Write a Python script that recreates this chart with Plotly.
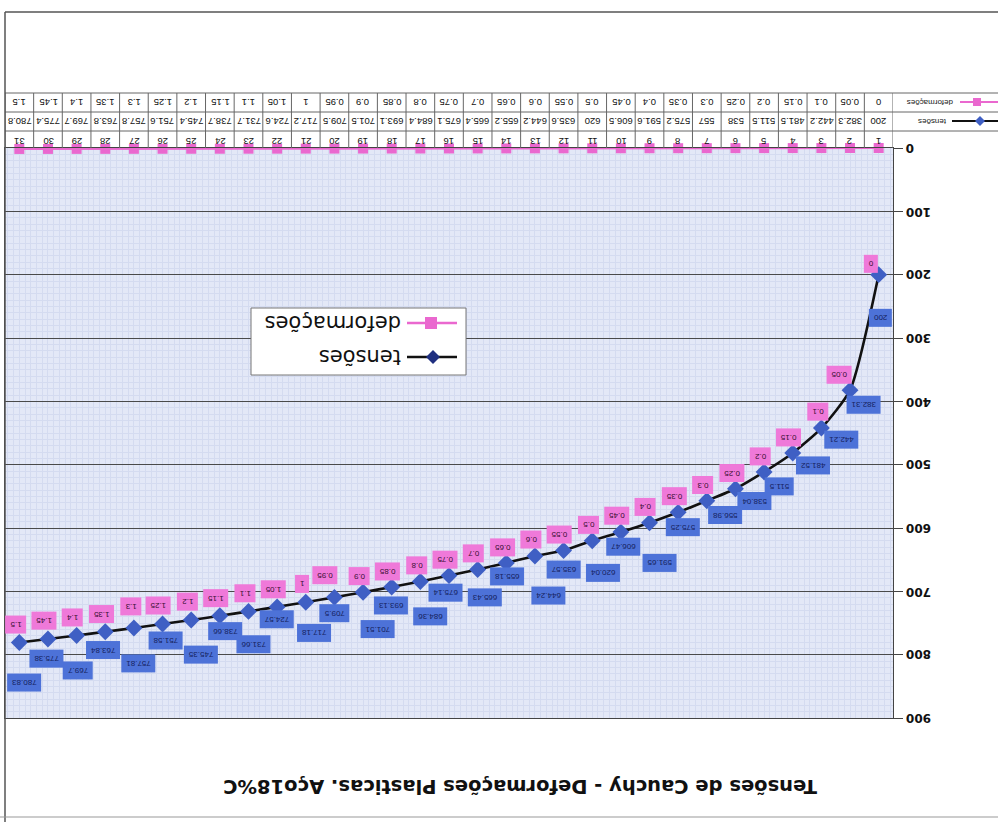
import plotly.graph_objects as go

# ---- data -------------------------------------------------------------
categorias = list(range(1, 32))
tensoes = [200, 382.31, 442.21, 481.52, 511.5, 538.04, 556.98, 575.25, 591.65, 606.47,
           620.04, 635.57, 644.24, 655.18, 665.43, 675.14, 684.36, 693.13, 701.51, 709.5,
           717.18, 724.57, 731.66, 738.66, 745.35, 751.58, 757.81, 763.84, 769.7, 775.38,
           780.83]
deformacoes = [0, 0.05, 0.1, 0.15, 0.2, 0.25, 0.3, 0.35, 0.4, 0.45,
               0.5, 0.55, 0.6, 0.65, 0.7, 0.75, 0.8, 0.85, 0.9, 0.95,
               1, 1.05, 1.1, 1.15, 1.2, 1.25, 1.3, 1.35, 1.4, 1.45, 1.5]
y_ticks = [0, 100, 200, 300, 400, 500, 600, 700, 800, 900]
titulo = "Tensões de Cauchy - Deformações Plasticas. Aço18%C"
nome_t = "tensões"
nome_d = "deformações"

# ---- label placement (pixel nudges around each point) -----------------
off_t = [(2, 43), (14, 15), (20, 12), (20, 12), (15, 14), (19, 12), (18, 14), (5, 15),
         (10, 40), (2, 15), (11, 32), (0, 19), (13, 40), (1, 13), (7, 28), (-3, 17),
         (10, 35), (-1, 18), (15, 37), (0, 16), (8, 31), (0, 12), (5, 33), (5, 15),
         (10, 35), (3, 17), (4, 35), (-2, 18), (1, 35), (-2, 20), (5, 40)]
off_d = [(-8, -11), (-11, -15)] + [(-4, -16)] * 17 + [(-10, -22)] + [(-4, -18)] * 6 \
        + [(-3, -22)] + [(-4, -18)] * 4

# ---- page geometry ------------------------------------------------------
W, H = 998, 822


def fx(px):
    return px / W


def fy(py):
    return 1 - py / H


PL, PR, PT, PB = 5, 893, 148, 718
ROW_LINES = [93, 112, 131]
ROW_D, ROW_T, ROW_C = 102, 121, 142

BLUE = "#3f5fc4"
PINK = "#ea68cf"
GRID = "#4a4a4a"
FONT = "Liberation Sans, Arial, sans-serif"
FONT_B = "DejaVu Sans, sans-serif"


def flipped(**kw):
    """Upside-down text annotation anchored on its centre."""
    base = dict(showarrow=False, textangle=180, xanchor="center", yanchor="middle")
    base.update(kw)
    return base


fig = go.Figure()

fig.add_trace(go.Scatter(
    x=categorias, y=tensoes, name=nome_t, mode="lines+markers",
    line=dict(color="#111111", width=2.6, shape="spline", smoothing=0.6),
    marker=dict(symbol="diamond", size=13, color=BLUE),
    cliponaxis=False, showlegend=False))

fig.add_trace(go.Scatter(
    x=categorias, y=deformacoes, name=nome_d, mode="lines+markers",
    line=dict(color=PINK, width=2),
    marker=dict(symbol="square", size=10, color=PINK),
    cliponaxis=False, showlegend=False))

ann = []
shapes = []

# value labels on the curve
for c, v, (dx, dy) in zip(categorias, tensoes, off_t):
    ann.append(flipped(x=c, y=v, xref="x", yref="y", text=f"{v:g}",
                       xshift=dx, yshift=-dy, bgcolor="#4d72d8", borderpad=4,
                       font=dict(family=FONT, size=8, color="#16225e")))
for c, v, d, (dx, dy) in zip(categorias, tensoes, deformacoes, off_d):
    ann.append(flipped(x=c, y=v, xref="x", yref="y", text=f"{d:g}",
                       xshift=dx, yshift=-dy, bgcolor="#ef79d9", borderpad=4,
                       font=dict(family=FONT, size=8, color="#3a0f33")))

# y tick labels, written upside down beside the right-hand axis
for t in y_ticks:
    ann.append(flipped(x=fx(904), y=t, xref="paper", yref="y", text=f"<b>{t}</b>",
                       xanchor="left", font=dict(family=FONT_B, size=12, color="#111")))

# data table above the plot: deformações, tensões and the category row
for c, v, d in zip(categorias, tensoes, deformacoes):
    ann.append(flipped(x=c, y=fy(ROW_D), xref="x", yref="paper", text=f"{d:g}",
                       font=dict(family=FONT, size=9.5, color="#111111")))
    ann.append(flipped(x=c, y=fy(ROW_T), xref="x", yref="paper", text=f"{round(v, 1):g}",
                       font=dict(family=FONT, size=9.5, color="#111111")))
    ann.append(flipped(x=c, y=fy(ROW_C), xref="x", yref="paper", text=str(c),
                       font=dict(family=FONT, size=9.5, color="#111111")))

for k in range(0, 32):
    shapes.append(dict(type="line", xref="x", yref="paper", x0=k + 0.5, x1=k + 0.5,
                       y0=fy(ROW_LINES[0]), y1=fy(PT), line=dict(color="#666666", width=1)))
for py in ROW_LINES:
    shapes.append(dict(type="line", xref="paper", yref="paper", x0=fx(PL), x1=1,
                       y0=fy(py), y1=fy(py), line=dict(color="#666666", width=1)))

# row headers with their legend keys
ann.append(flipped(x=fx(930), y=fy(ROW_D), xref="paper", yref="paper", text=nome_d,
                   font=dict(family=FONT, size=8, color="#222")))
ann.append(flipped(x=fx(932), y=fy(ROW_T), xref="paper", yref="paper", text=nome_t,
                   font=dict(family=FONT, size=8, color="#222")))
shapes.append(dict(type="line", xref="paper", yref="paper", x0=fx(960), x1=1,
                   y0=fy(ROW_D), y1=fy(ROW_D), line=dict(color=PINK, width=2)))
shapes.append(dict(type="rect", xref="paper", yref="paper", x0=fx(973), x1=fx(981),
                   y0=fy(ROW_D + 4), y1=fy(ROW_D - 4), fillcolor=PINK, line=dict(width=0)))
shapes.append(dict(type="line", xref="paper", yref="paper", x0=fx(952), x1=1,
                   y0=fy(ROW_T), y1=fy(ROW_T), line=dict(color="#111", width=2)))
shapes.append(dict(type="path", xref="paper", yref="paper",
                   path=f"M {fx(980)},{fy(ROW_T - 5)} L {fx(985)},{fy(ROW_T)} "
                        f"L {fx(980)},{fy(ROW_T + 5)} L {fx(975)},{fy(ROW_T)} Z",
                   fillcolor=BLUE, line=dict(width=0)))

# legend box
LX0, LX1, LY0, LY1 = 251, 466, 308, 375
shapes.append(dict(type="rect", xref="paper", yref="paper", x0=fx(LX0), x1=fx(LX1),
                   y0=fy(LY1), y1=fy(LY0), fillcolor="white",
                   line=dict(color="#777777", width=1)))
for py, name, col, sym in [(323, nome_d, PINK, "sq"), (357, nome_t, "#111", "di")]:
    shapes.append(dict(type="line", xref="paper", yref="paper", x0=fx(407), x1=fx(457),
                       y0=fy(py), y1=fy(py), line=dict(color=col, width=2.5)))
    if sym == "sq":
        shapes.append(dict(type="rect", xref="paper", yref="paper", x0=fx(425), x1=fx(437),
                           y0=fy(py + 6), y1=fy(py - 6), fillcolor=PINK, line=dict(width=0)))
    else:
        shapes.append(dict(type="path", xref="paper", yref="paper",
                           path=f"M {fx(433)},{fy(py - 7)} L {fx(440)},{fy(py)} "
                                f"L {fx(433)},{fy(py + 7)} L {fx(426)},{fy(py)} Z",
                           fillcolor="#1f2f80", line=dict(width=0)))
    ann.append(flipped(x=fx(403), y=fy(py), xref="paper", yref="paper", text=name,
                       xanchor="right", font=dict(family=FONT_B, size=21, color="#111")))

# title
ann.append(flipped(x=fx(520), y=fy(787), xref="paper", yref="paper", text=f"<b>{titulo}</b>",
                   font=dict(family=FONT_B, size=19.5, color="#111")))

# outer frame
shapes.append(dict(type="line", xref="paper", yref="paper", x0=fx(5), x1=1,
                   y0=fy(12), y1=fy(12), line=dict(color="#555", width=1.5)))
shapes.append(dict(type="line", xref="paper", yref="paper", x0=fx(5), x1=fx(5),
                   y0=fy(12), y1=fy(822), line=dict(color="#555", width=1.5)))
shapes.append(dict(type="line", xref="paper", yref="paper", x0=0, x1=1,
                   y0=fy(817), y1=fy(817), line=dict(color="#999", width=1)))

fig.update_layout(
    width=W, height=H, margin=dict(l=0, r=0, t=0, b=0, autoexpand=False),
    paper_bgcolor="white", plot_bgcolor="#e3e8f7",
    showlegend=False, annotations=ann, shapes=shapes,
    xaxis=dict(domain=[fx(PL), fx(PR)], range=[31.5, 0.5], side="top",
               tickvals=categorias, showticklabels=False, ticks="",
               showgrid=False, zeroline=False,
               showline=True, linecolor="#444", mirror=True, automargin=False,
               minor=dict(dtick=0.2, showgrid=True, gridcolor="#d4dbf0", gridwidth=0.6)),
    yaxis=dict(domain=[fy(PB), fy(PT)], range=[900, 0], side="right",
               tickvals=y_ticks, showticklabels=False, ticks="outside", ticklen=9,
               tickcolor="#444", showgrid=True, gridcolor=GRID, gridwidth=1.2,
               zeroline=False, showline=True, linecolor="#444", mirror=True,
               automargin=False,
               minor=dict(dtick=10, showgrid=True, gridcolor="#d4dbf0", gridwidth=0.6)),
)

fig.write_html("out.html")
